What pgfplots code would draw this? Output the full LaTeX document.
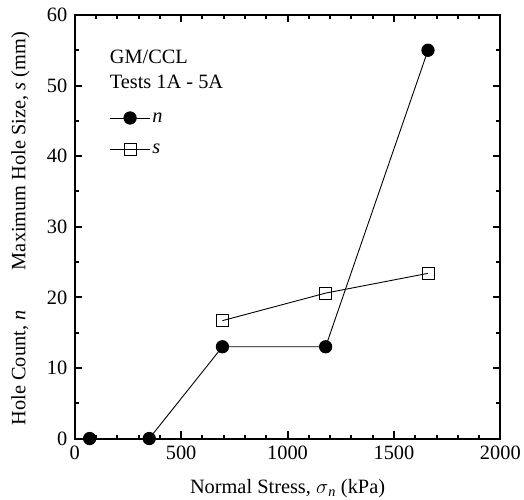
\documentclass[border=0pt]{standalone}
\usepackage{fontspec}
\setmainfont{Liberation Serif}
\usepackage{pgfplots}
\pgfplotsset{compat=1.18}

\newcommand{\chartfont}{\fontsize{20.5}{23}\selectfont}

\begin{document}
\begin{tikzpicture}
\begin{axis}[
    scale only axis,
    width=427bp, height=425bp,
    xmin=0, xmax=2000,
    ymin=0, ymax=60,
    xtick={0,500,...,2000},
    ytick={0,10,...,60},
    minor x tick num=4,
    minor y tick num=1,
    tick align=inside,
    major tick length=7.5bp,
    minor tick length=4bp,
    tick style={line width=2bp, black},
    axis line style={line width=2bp},
    scaled x ticks=false,
    /pgf/number format/assume math mode=true,
    /pgf/number format/1000 sep={},
    tick label style={font=\chartfont},
    xticklabel style={yshift=-4bp},
    yticklabel style={xshift=-4bp},
    xlabel={Normal Stress, $\sigma$\textsubscript{\textit{n}} (kPa)},
    xlabel style={at={(axis description cs:0.5,0)}, anchor=base, yshift=-55bp,
        inner sep=0pt, font=\chartfont},
    legend style={draw=none, fill=none, at={(axis cs:164,46.5)}, anchor=north west,
        font=\chartfont, row sep=16bp, inner sep=0pt},
    legend cell align=left,
    legend image code/.code={\draw[mark repeat=2,mark phase=2] plot coordinates {(0cm,0cm)(0.7cm,0cm)(1.4cm,0cm)};},
    clip=false,
]
\addplot[black, line width=0.9bp, mark=*, mark size=6.2bp, mark options={fill=black}] coordinates {
(70,0) (350,0) (694,13) (1179,13) (1660,55)
};
\addlegendentry{\textit{n}}
\addplot[black, line width=0.9bp, mark=square, mark size=6bp, mark options={fill=white, line width=0.9bp}] coordinates {
(694,16.7) (1179,20.6) (1660,23.4)
};
\addlegendentry{\textit{s}}
\node[anchor=west, font=\chartfont, inner sep=0pt] at (axis cs:164,54.1) {GM/CCL};
\node[anchor=west, font=\chartfont, inner sep=0pt] at (axis cs:164,50.5) {Tests 1A - 5A};
\node[rotate=90, anchor=base west, font=\chartfont, inner sep=0pt] at ([xshift=-49.5bp, yshift=13bp]rel axis cs:0,0) {Hole Count, \textit{n}};
\node[rotate=90, anchor=base east, font=\chartfont, inner sep=0pt] at ([xshift=-49.5bp, yshift=-17bp]rel axis cs:0,1) {Maximum Hole Size, \textit{s} (mm)};
\path ([xshift=-75bp, yshift=-61bp]rel axis cs:0,0) -- ([xshift=22bp, yshift=15bp]rel axis cs:1,1);
\end{axis}
\end{tikzpicture}
\end{document}
